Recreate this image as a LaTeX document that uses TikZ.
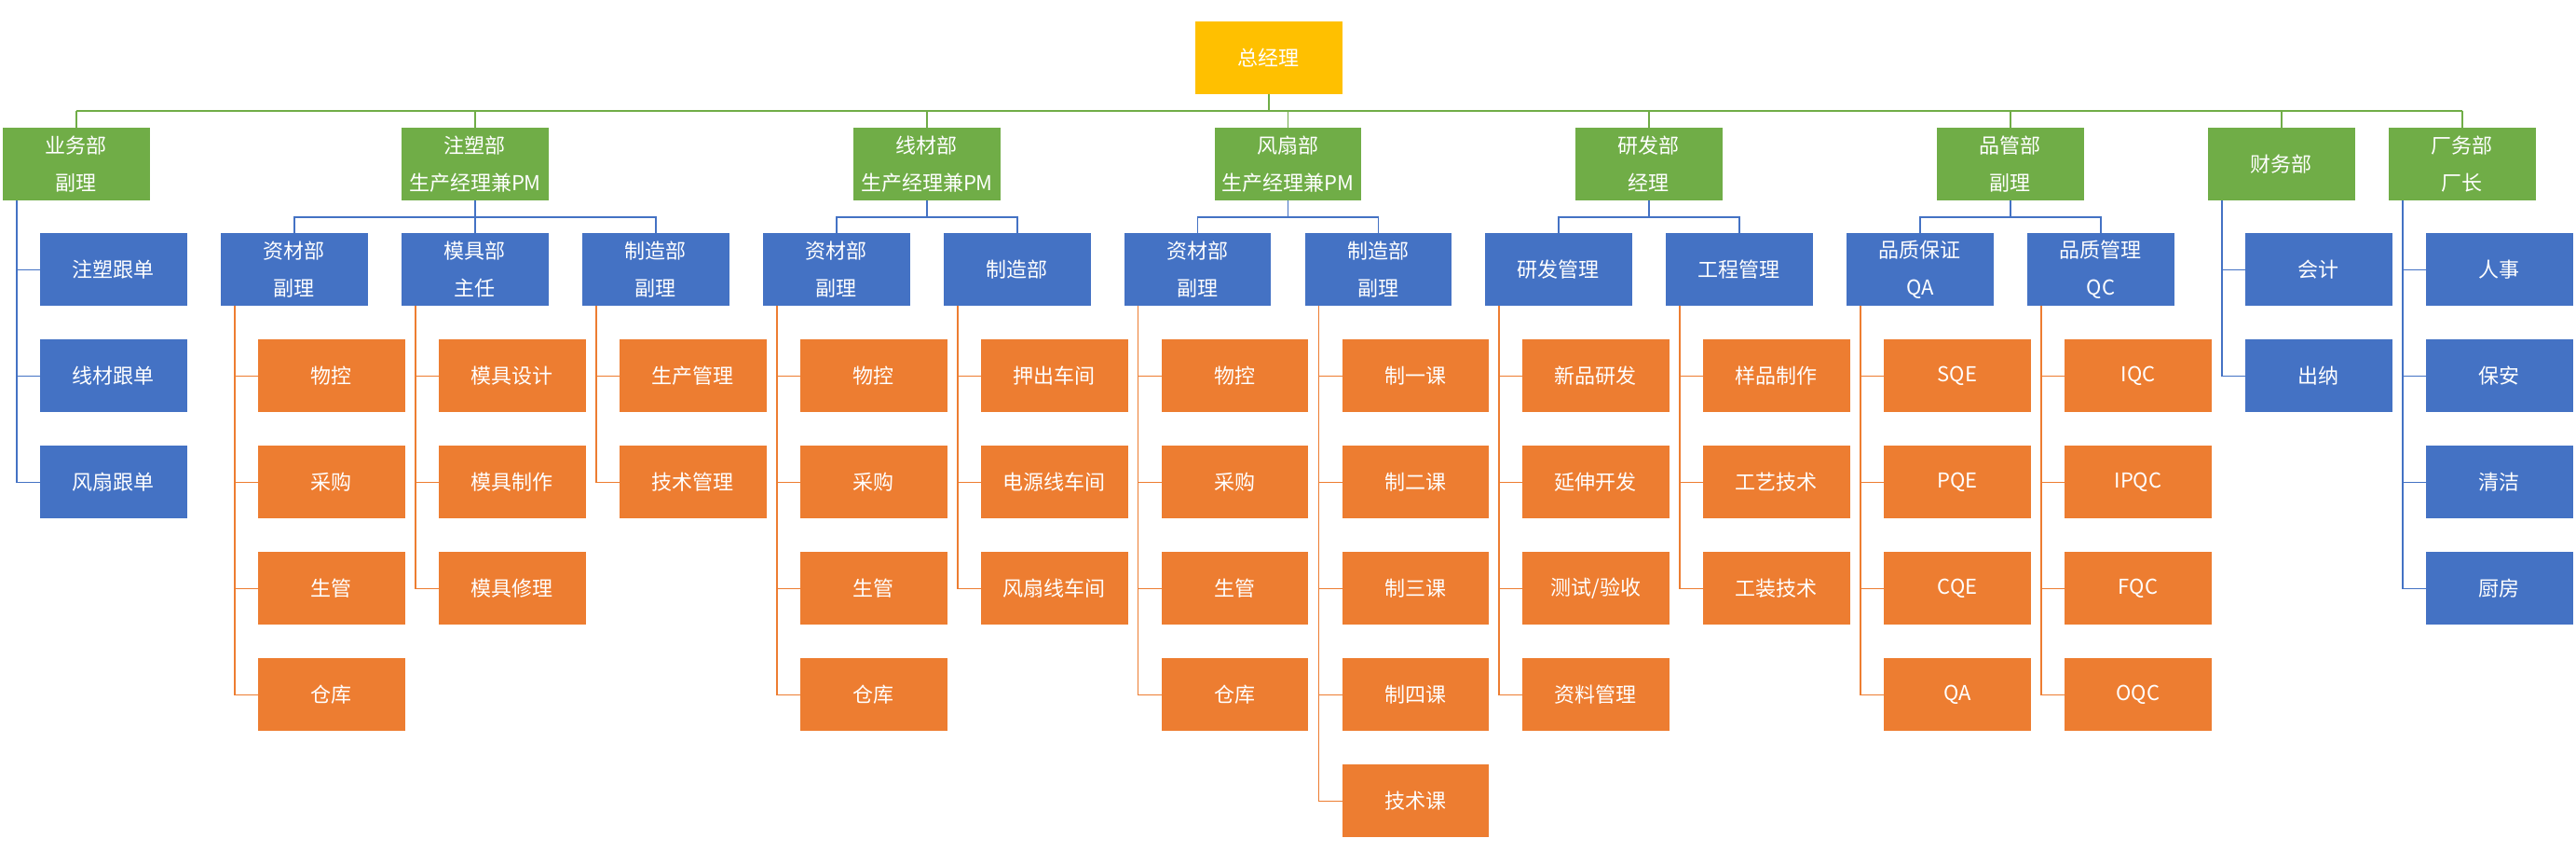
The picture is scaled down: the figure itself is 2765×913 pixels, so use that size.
\documentclass[tikz,border=0pt]{standalone}
\usepackage{fontspec}
\newfontfamily\cjk{Noto Sans CJK SC}
\usetikzlibrary{calc}
\definecolor{cgold}{HTML}{FFC000}
\definecolor{cgreen}{HTML}{70AD47}
\definecolor{cblue}{HTML}{4472C4}
\definecolor{corange}{HTML}{ED7D31}
\tikzset{
 boxbase/.style={anchor=north west, minimum width=157.5pt, minimum height=78pt, inner sep=0pt, text=white, align=center, font=\cjk\fontsize{22pt}{40pt}\selectfont},
 gmbox/.style={boxbase, fill=cgold},
 gbox/.style={boxbase, fill=cgreen},
 bbox/.style={boxbase, fill=cblue},
 obox/.style={boxbase, fill=corange},
 gline/.style={draw=cgreen, line width=1.3pt},
 bline/.style={draw=cblue, line width=1.3pt},
 oline/.style={draw=corange, line width=1.3pt},
}
\newcommand\stemgroup[7]{%
 \foreach \t [count=\i] in {#7} {
  \node[#5] (#2-\i) at (#3,{#4+114*(\i-1)}) {\t};
  \draw[#6] ($(#1.south west)+(15,0)$) |- (#2-\i.west);
 }}
\begin{document}
\begin{tikzpicture}[x=1pt,y=-1pt]
\fill[white] (0,0) rectangle (2765,913);
\useasboundingbox (0,0) rectangle (2765,913);
\node[gmbox] (gm) at (1283,23) {总经理};
\node[gbox] (d1) at (3,137) {业务部\\副理};
\node[gbox] (d2) at (431,137) {注塑部\\生产经理兼PM};
\node[gbox] (d3) at (916,137) {线材部\\生产经理兼PM};
\node[gbox] (d4) at (1303.5,137) {风扇部\\生产经理兼PM};
\node[gbox] (d5) at (1691,137) {研发部\\经理};
\node[gbox] (d6) at (2079,137) {品管部\\副理};
\node[gbox] (d7) at (2370,137) {财务部};
\node[gbox] (d8) at (2564,137) {厂务部\\厂长};
\node[bbox] (b1) at (237,250) {资材部\\副理};
\node[bbox] (b2) at (431,250) {模具部\\主任};
\node[bbox] (b3) at (625,250) {制造部\\副理};
\node[bbox] (b4) at (819,250) {资材部\\副理};
\node[bbox] (b5) at (1013,250) {制造部};
\node[bbox] (b6) at (1206.5,250) {资材部\\副理};
\node[bbox] (b7) at (1400.5,250) {制造部\\副理};
\node[bbox] (b8) at (1594,250) {研发管理};
\node[bbox] (b9) at (1788,250) {工程管理};
\node[bbox] (b10) at (1982,250) {品质保证\\QA};
\node[bbox] (b11) at (2176,250) {品质管理\\QC};
\coordinate (bus1) at (0,119);
\coordinate (bus2) at (0,233);
\draw[gline] (gm.south) -- (gm.south|-bus1);
\draw[gline] (d1.north|-bus1) -- (d8.north|-bus1);
\foreach \d in {d1,d2,d3,d4,d5,d6,d7,d8} \draw[gline] (\d.north) -- (\d.north|-bus1);
\draw[bline] (b1.north) |- (bus2-|b3.north) -- (b3.north);
\draw[bline] (d2.south) -- (b2.north);
\draw[bline] (b4.north) |- (bus2-|b5.north) -- (b5.north);
\draw[bline] (d3.south) -- (d3.south|-bus2);
\draw[bline] (b6.north) |- (bus2-|b7.north) -- (b7.north);
\draw[bline] (d4.south) -- (d4.south|-bus2);
\draw[bline] (b8.north) |- (bus2-|b9.north) -- (b9.north);
\draw[bline] (d5.south) -- (d5.south|-bus2);
\draw[bline] (b10.north) |- (bus2-|b11.north) -- (b11.north);
\draw[bline] (d6.south) -- (d6.south|-bus2);
\stemgroup{d1}{a}{43}{250}{bbox}{bline}{注塑跟单,线材跟单,风扇跟单}
\stemgroup{d7}{f}{2410}{250}{bbox}{bline}{会计,出纳}
\stemgroup{d8}{h}{2604}{250}{bbox}{bline}{人事,保安,清洁,厨房}
\stemgroup{b1}{o1}{277}{364}{obox}{oline}{物控,采购,生管,仓库}
\stemgroup{b2}{o2}{471}{364}{obox}{oline}{模具设计,模具制作,模具修理}
\stemgroup{b3}{o3}{665}{364}{obox}{oline}{生产管理,技术管理}
\stemgroup{b4}{o4}{859}{364}{obox}{oline}{物控,采购,生管,仓库}
\stemgroup{b5}{o5}{1053}{364}{obox}{oline}{押出车间,电源线车间,风扇线车间}
\stemgroup{b6}{o6}{1246.5}{364}{obox}{oline}{物控,采购,生管,仓库}
\stemgroup{b7}{o7}{1440.5}{364}{obox}{oline}{制一课,制二课,制三课,制四课,技术课}
\stemgroup{b8}{o8}{1634}{364}{obox}{oline}{新品研发,延伸开发,{测试/验收},资料管理}
\stemgroup{b9}{o9}{1828}{364}{obox}{oline}{样品制作,工艺技术,工装技术}
\stemgroup{b10}{o10}{2022}{364}{obox}{oline}{SQE,PQE,CQE,QA}
\stemgroup{b11}{o11}{2216}{364}{obox}{oline}{IQC,IPQC,FQC,OQC}
\end{tikzpicture}
\end{document}
